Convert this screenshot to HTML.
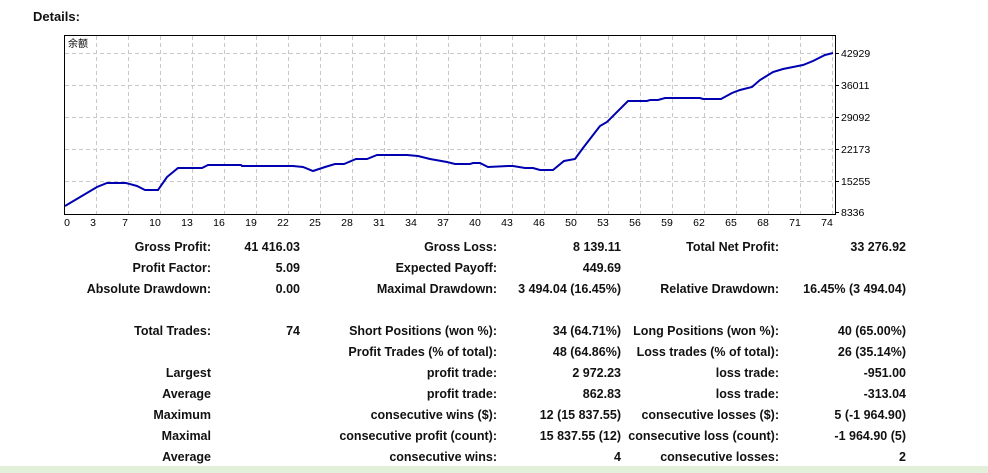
<!DOCTYPE html>
<html><head><meta charset="utf-8"><style>
html,body{margin:0;padding:0;background:#fff;}
body{width:988px;height:473px;position:relative;overflow:hidden;font-family:"Liberation Sans","Noto Sans CJK SC",sans-serif;}
.t{position:absolute;font-weight:bold;font-size:12.5px;color:#111;white-space:nowrap;line-height:14px;}
.r{text-align:right;}
</style></head><body>
<div class="t" style="left:33px;top:10px;font-size:13px;">Details:</div>
<svg style="position:absolute;left:0;top:0" width="988" height="235">
<g stroke="#c8c8c8" stroke-dasharray="4,3" stroke-width="1">
<line x1="65" x2="834" y1="53.5" y2="53.5"/><line x1="65" x2="834" y1="85.5" y2="85.5"/><line x1="65" x2="834" y1="117.5" y2="117.5"/><line x1="65" x2="834" y1="149.5" y2="149.5"/><line x1="65" x2="834" y1="181.5" y2="181.5"/>
<line x1="96.5" x2="96.5" y1="36" y2="214"/><line x1="128.5" x2="128.5" y1="36" y2="214"/><line x1="160.5" x2="160.5" y1="36" y2="214"/><line x1="192.5" x2="192.5" y1="36" y2="214"/><line x1="224.5" x2="224.5" y1="36" y2="214"/><line x1="256.5" x2="256.5" y1="36" y2="214"/><line x1="288.5" x2="288.5" y1="36" y2="214"/><line x1="320.5" x2="320.5" y1="36" y2="214"/><line x1="352.5" x2="352.5" y1="36" y2="214"/><line x1="384.5" x2="384.5" y1="36" y2="214"/><line x1="416.5" x2="416.5" y1="36" y2="214"/><line x1="448.5" x2="448.5" y1="36" y2="214"/><line x1="480.5" x2="480.5" y1="36" y2="214"/><line x1="512.5" x2="512.5" y1="36" y2="214"/><line x1="544.5" x2="544.5" y1="36" y2="214"/><line x1="576.5" x2="576.5" y1="36" y2="214"/><line x1="608.5" x2="608.5" y1="36" y2="214"/><line x1="640.5" x2="640.5" y1="36" y2="214"/><line x1="672.5" x2="672.5" y1="36" y2="214"/><line x1="704.5" x2="704.5" y1="36" y2="214"/><line x1="736.5" x2="736.5" y1="36" y2="214"/><line x1="768.5" x2="768.5" y1="36" y2="214"/><line x1="800.5" x2="800.5" y1="36" y2="214"/><line x1="832.5" x2="832.5" y1="36" y2="214"/>
</g>
<rect x="64.5" y="35.5" width="771" height="179" fill="none" stroke="#000" stroke-width="1"/>
<g stroke="#000"><line x1="836" x2="839" y1="53.5" y2="53.5"/><line x1="836" x2="839" y1="85.5" y2="85.5"/><line x1="836" x2="839" y1="117.5" y2="117.5"/><line x1="836" x2="839" y1="149.5" y2="149.5"/><line x1="836" x2="839" y1="181.5" y2="181.5"/><line x1="836" x2="839" y1="212.5" y2="212.5"/></g>
<polyline fill="none" stroke="#0000b0" stroke-width="2" points="65,206 97,187 107,183 126,183 137,186 145,190 158,190 167,177 178,168 202,168 208,165 241,165 242,166 293,166 303,167 313,171 325,167 335,164 344,164 356,159 367,159 377,155 407,155 418,156 430,159 447,162 455,164 470,164 473,163 480,163 488,167 508,166 513,166 525,168 533,168 540,170 553,170 564,161 575,159 583,148 600,126 607,122 628,101 647,101 650,100 658,100 665,98 700,98 703,99 721,99 732,93 740,90 752,87 760,80 773,72 783,69 793,67 803,65 813,61 825,55 833,53"/>
<text x="68" y="47" font-size="10" font-family="Noto Sans CJK SC,sans-serif" fill="#000">余额</text>
<g font-size="10.5" font-family="Liberation Sans,sans-serif" fill="#000">
<text x="841" y="57">42929</text><text x="841" y="89">36011</text><text x="841" y="121">29092</text><text x="841" y="153">22173</text><text x="841" y="185">15255</text><text x="841" y="216">8336</text>
</g>
<g font-size="10.5" font-family="Liberation Sans,sans-serif" fill="#000" text-anchor="middle">
<text x="67" y="226">0</text><text x="93" y="226">3</text><text x="125" y="226">7</text><text x="155" y="226">10</text><text x="187" y="226">13</text><text x="219" y="226">16</text><text x="251" y="226">19</text><text x="283" y="226">22</text><text x="315" y="226">25</text><text x="347" y="226">28</text><text x="379" y="226">31</text><text x="411" y="226">34</text><text x="443" y="226">37</text><text x="475" y="226">40</text><text x="507" y="226">43</text><text x="539" y="226">46</text><text x="571" y="226">50</text><text x="603" y="226">53</text><text x="635" y="226">56</text><text x="667" y="226">59</text><text x="699" y="226">62</text><text x="731" y="226">65</text><text x="763" y="226">68</text><text x="795" y="226">71</text><text x="827" y="226">74</text>
</g>
</svg>
<div style="position:absolute;left:0;top:466px;width:988px;height:7px;background:#e2efd9;"></div>

<!-- col1 labels right 211, values right 300 -->
<div class="t r" style="right:777px;top:240px">Gross Profit:</div>
<div class="t r" style="right:688px;top:240px">41 416.03</div>
<div class="t r" style="right:491px;top:240px">Gross Loss:</div>
<div class="t r" style="right:367px;top:240px">8 139.11</div>
<div class="t r" style="right:209px;top:240px">Total Net Profit:</div>
<div class="t r" style="right:82px;top:240px">33 276.92</div>

<div class="t r" style="right:777px;top:261px">Profit Factor:</div>
<div class="t r" style="right:688px;top:261px">5.09</div>
<div class="t r" style="right:491px;top:261px">Expected Payoff:</div>
<div class="t r" style="right:367px;top:261px">449.69</div>

<div class="t r" style="right:777px;top:282px">Absolute Drawdown:</div>
<div class="t r" style="right:688px;top:282px">0.00</div>
<div class="t r" style="right:491px;top:282px">Maximal Drawdown:</div>
<div class="t r" style="right:367px;top:282px">3 494.04 (16.45%)</div>
<div class="t r" style="right:209px;top:282px">Relative Drawdown:</div>
<div class="t r" style="right:82px;top:282px">16.45% (3 494.04)</div>

<div class="t r" style="right:777px;top:324px">Total Trades:</div>
<div class="t r" style="right:688px;top:324px">74</div>
<div class="t r" style="right:491px;top:324px">Short Positions (won %):</div>
<div class="t r" style="right:367px;top:324px">34 (64.71%)</div>
<div class="t r" style="right:209px;top:324px">Long Positions (won %):</div>
<div class="t r" style="right:82px;top:324px">40 (65.00%)</div>

<div class="t r" style="right:491px;top:345px">Profit Trades (% of total):</div>
<div class="t r" style="right:367px;top:345px">48 (64.86%)</div>
<div class="t r" style="right:209px;top:345px">Loss trades (% of total):</div>
<div class="t r" style="right:82px;top:345px">26 (35.14%)</div>

<div class="t r" style="right:777px;top:366px">Largest</div>
<div class="t r" style="right:491px;top:366px">profit trade:</div>
<div class="t r" style="right:367px;top:366px">2 972.23</div>
<div class="t r" style="right:209px;top:366px">loss trade:</div>
<div class="t r" style="right:82px;top:366px">-951.00</div>

<div class="t r" style="right:777px;top:387px">Average</div>
<div class="t r" style="right:491px;top:387px">profit trade:</div>
<div class="t r" style="right:367px;top:387px">862.83</div>
<div class="t r" style="right:209px;top:387px">loss trade:</div>
<div class="t r" style="right:82px;top:387px">-313.04</div>

<div class="t r" style="right:777px;top:408px">Maximum</div>
<div class="t r" style="right:491px;top:408px">consecutive wins ($):</div>
<div class="t r" style="right:367px;top:408px">12 (15 837.55)</div>
<div class="t r" style="right:209px;top:408px">consecutive losses ($):</div>
<div class="t r" style="right:82px;top:408px">5 (-1 964.90)</div>

<div class="t r" style="right:777px;top:429px">Maximal</div>
<div class="t r" style="right:491px;top:429px">consecutive profit (count):</div>
<div class="t r" style="right:367px;top:429px">15 837.55 (12)</div>
<div class="t r" style="right:209px;top:429px">consecutive loss (count):</div>
<div class="t r" style="right:82px;top:429px">-1 964.90 (5)</div>

<div class="t r" style="right:777px;top:450px">Average</div>
<div class="t r" style="right:491px;top:450px">consecutive wins:</div>
<div class="t r" style="right:367px;top:450px">4</div>
<div class="t r" style="right:209px;top:450px">consecutive losses:</div>
<div class="t r" style="right:82px;top:450px">2</div>
</body></html>
